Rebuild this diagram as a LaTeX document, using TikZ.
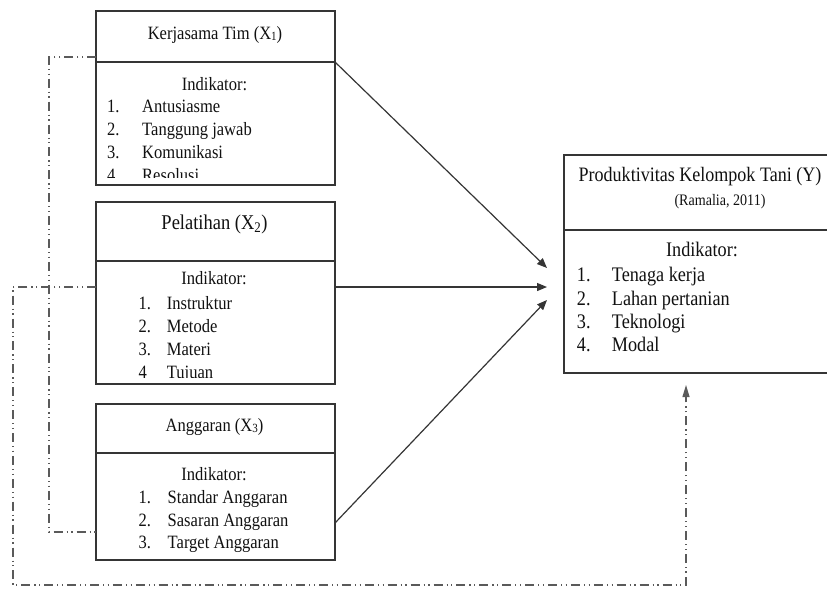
\documentclass[tikz,border=0pt]{standalone}
\usepackage{fontspec}
\setmainfont{Liberation Serif}[FakeStretch=0.88]
\usetikzlibrary{arrows.meta,calc}
\definecolor{boxc}{HTML}{353535}
\definecolor{txtc}{HTML}{111111}
\definecolor{dashc}{HTML}{5A5A5A}
\newcommand{\smsub}[1]{\raisebox{-1pt}{\fontsize{12.5}{12}\selectfont #1}}
\begin{document}
\begin{tikzpicture}[x=1pt,y=-1pt,
  box/.style={draw=boxc,line width=1.3pt,rectangle,anchor=north west,inner sep=0pt,outer sep=0pt},
  ttl/.style={anchor=base,inner sep=0pt,text=txtc,font=\fontsize{18.8}{22}\selectfont},
  ttlb/.style={anchor=base,inner sep=0pt,text=txtc,font=\fontsize{21}{24}\selectfont},
  itm/.style={anchor=base west,inner sep=0pt,text=txtc,font=\fontsize{18.8}{22}\selectfont},
  ind/.style={anchor=base,inner sep=0pt,text=txtc,font=\fontsize{18.8}{22}\selectfont},
  yitm/.style={anchor=base west,inner sep=0pt,text=txtc,font=\fontsize{20.7}{24}\selectfont},
  yind/.style={anchor=base,inner sep=0pt,text=txtc,font=\fontsize{20.7}{24}\selectfont},
  arr/.style={draw=boxc,line width=1.2pt,-{Triangle[length=10pt,width=8pt]}},
  dd/.style={draw=dashc,line width=1.1pt,dash pattern=on 9pt off 4pt on 1.2pt off 3.5pt on 1.2pt off 4pt}
]
\clip (0,0) rectangle (827,590);
\fill[white] (0,0) rectangle (827,590);

% ---- X1 box ----
\node[box,minimum width=239pt,minimum height=51pt] (x1top) at (96,11) {};
\node[box,minimum width=239pt,minimum height=123pt] (x1bot) at (96,62) {};
\node[ttl] (x1t) at (215,39.5) {Kerjasama Tim (X\smsub{1})};
\node[ind] (x1i) at (214.5,90) {Indikator:};
\node[itm] (x1n1) at (107,112) {1.};
\node[itm] (x1a) at (142,112) {Antusiasme};
\node[itm] (x1n2) at (107,135) {2.};
\node[itm] (x1b) at (142,135) {Tanggung jawab};
\node[itm] (x1n3) at (107,158) {3.};
\node[itm] (x1c) at (142,158) {Komunikasi};
\begin{scope}
\clip (96,150) rectangle (335,177.5);
\node[itm] (x1n4) at (107,181) {4};
\node[itm] (x1d) at (142,181) {Resolusi};
\end{scope}

% ---- X2 box ----
\node[box,minimum width=239pt,minimum height=59pt] (x2top) at (96,202) {};
\node[box,minimum width=239pt,minimum height=123pt] (x2bot) at (96,261) {};
\node[ttlb] (x2t) at (214.5,229.3) {Pelatihan (X\textsubscript{2})};
\node[ind] (x2i) at (214,284) {Indikator:};
\node[itm] (x2n1) at (138.3,309) {1.};
\node[itm] (x2a) at (166.7,309) {Instruktur};
\node[itm] (x2n2) at (138.3,332) {2.};
\node[itm] (x2b) at (166.7,332) {Metode};
\node[itm] (x2n3) at (138.3,355) {3.};
\node[itm] (x2c) at (166.7,355) {Materi};
\begin{scope}
\clip (96,345) rectangle (335,377);
\node[itm] (x2n4) at (138.3,378.5) {4};
\node[itm] (x2d) at (166.7,378.5) {Tujuan};
\end{scope}

% ---- X3 box ----
\node[box,minimum width=239pt,minimum height=49pt] (x3top) at (96,404) {};
\node[box,minimum width=239pt,minimum height=107pt] (x3bot) at (96,453) {};
\node[ttl] (x3t) at (214.5,431) {Anggaran (X\smsub{3})};
\node[ind] (x3i) at (214,480) {Indikator:};
\node[itm] (x3n1) at (138.3,503) {1.};
\node[itm] (x3a) at (167.5,503) {Standar Anggaran};
\node[itm] (x3n2) at (138.3,526) {2.};
\node[itm] (x3b) at (167.5,526) {Sasaran Anggaran};
\node[itm] (x3n3) at (138.3,548.5) {3.};
\node[itm] (x3c) at (167.5,548.5) {Target Anggaran};

% ---- Y box ----
\node[box,minimum width=280pt,minimum height=75pt] (ytop) at (564,155) {};
\node[box,minimum width=280pt,minimum height=143pt] (ybot) at (564,230) {};
\node[anchor=base,inner sep=0pt,text=txtc,font=\fontsize{20.5}{24}\selectfont] (yt) at (700,181.5) {Produktivitas Kelompok Tani (Y)};
\node[anchor=base,inner sep=0pt,text=txtc,font=\fontsize{16}{19}\selectfont] (yr) at (720,205) {(Ramalia, 2011)};
\node[yind] (yi) at (702,256.5) {Indikator:};
\node[yitm] (yn1) at (576.7,281.5) {1.};
\node[yitm] (ya) at (611.7,281.5) {Tenaga kerja};
\node[yitm] (yn2) at (576.7,305) {2.};
\node[yitm] (yb) at (611.7,305) {Lahan pertanian};
\node[yitm] (yn3) at (576.7,328.3) {3.};
\node[yitm] (yc) at (611.7,328.3) {Teknologi};
\node[yitm] (yn4) at (576.7,351.6) {4.};
\node[yitm] (yd) at (611.7,351.6) {Modal};

% ---- arrows ----
\coordinate (tipA) at (547,268);
\coordinate (tipB) at (547,287);
\coordinate (tipC) at (547,300);
\coordinate (tipD) at (686,385);
\draw[arr] (x1bot.north east) -- (tipA);
\draw[arr] (x2bot.east |- tipB) -- (tipB);
\draw[arr] ([yshift=-16.5pt]x3bot.east) -- (tipC);

% ---- dash-dot connectors ----
\coordinate (a1) at (49,57);
\coordinate (a2) at (49,532);
\draw[dd] ([yshift=5pt]x1top.south west) -- (a1) -- (a2) -- (x3bot.west |- a2);
\coordinate (b1) at (13,287);
\coordinate (b2) at (13,585);
\coordinate (b3) at (686,585);
\draw[dd,-{Triangle[length=12pt,width=7pt]}] (x2bot.west |- b1) -- (b1) -- (b2) -- (b3) -- (tipD);
\end{tikzpicture}
\end{document}
